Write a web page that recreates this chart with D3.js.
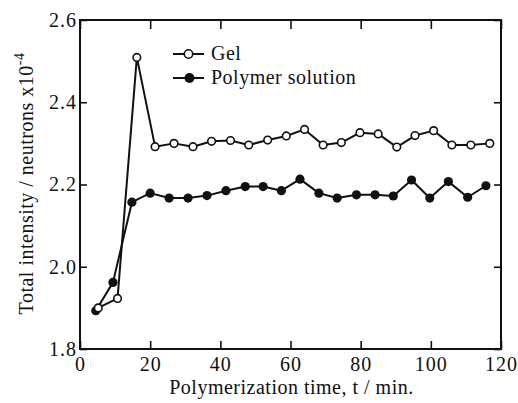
<!doctype html>
<html>
<head>
  <meta charset="utf-8">
  <title>Total intensity vs polymerization time</title>
  <style>
    body { margin: 0; background: #fff; }
    .axis line { stroke: #111; stroke-width: 1.6px; }
  </style>
</head>
<body>
  <div id="chart"></div>
  <script src="https://cdnjs.cloudflare.com/ajax/libs/d3/7.8.5/d3.min.js"></script>
  <script>
    // values
    var gelTime = [5.2, 10.7, 16.2, 21.4, 26.8, 32.2, 37.5, 42.9, 48.1, 53.5, 58.8, 64, 69.3, 74.5, 79.8, 85, 90.3, 95.5, 100.8, 106, 111.4, 116.8];
    var gelIntensity = [1.900, 1.923, 2.509, 2.292, 2.300, 2.292, 2.305, 2.307, 2.296, 2.308, 2.318, 2.334, 2.296, 2.302, 2.326, 2.323, 2.291, 2.319, 2.331, 2.296, 2.296, 2.300];
    var solTime = [4.5, 9.4, 14.8, 20, 25.4, 30.8, 36.2, 41.6, 47.1, 52.2, 57.4, 62.7, 68.1, 73.3, 78.8, 84.1, 89.3, 94.5, 99.7, 105, 110.5, 115.7];
    var solIntensity = [1.893, 1.962, 2.157, 2.179, 2.167, 2.167, 2.173, 2.185, 2.195, 2.195, 2.185, 2.213, 2.179, 2.167, 2.175, 2.175, 2.172, 2.211, 2.167, 2.207, 2.169, 2.197];
    var xTicks = [0, 20, 40, 60, 80, 100, 120];
    var yTicks = [1.8, 2.0, 2.2, 2.4, 2.6];
    var seriesNames = ["Gel", "Polymer solution"];

    // the serif face only shows up to 20px here, so stay at 20 and widen with spacing
    var fontName = "Liberation Serif";
    var fontSize = 20;
    var spacing = 0.5;
    var width = 518, height = 403;
    var margin = { top: 20, right: 17, bottom: 54, left: 80 };

    var gel = gelTime.map((t, i) => ({ t: t, v: gelIntensity[i] }));
    var sol = solTime.map((t, i) => ({ t: t, v: solIntensity[i] }));

    var x = d3.scaleLinear().domain([0, 120]).range([margin.left, width - margin.right]);
    var y = d3.scaleLinear().domain([1.8, 2.6]).range([height - margin.bottom, margin.top]);

    var svg = d3.select("#chart").append("svg")
      .attr("width", width).attr("height", height)
      .attr("font-family", fontName)
      .attr("font-size", fontSize);

    // axes with inward ticks on all four sides
    var styleAxis = g => g
      .attr("font-family", fontName)
      .attr("font-size", fontSize)
      .call(g => g.select(".domain").remove())
      .call(g => g.selectAll("text").attr("fill", "#111").attr("letter-spacing", 1));

    svg.append("g").attr("class", "axis")
      .attr("transform", `translate(0,${y.range()[0]})`)
      .call(d3.axisBottom(x).tickValues(xTicks).tickSizeInner(-8).tickSizeOuter(0).tickPadding(8))
      .call(styleAxis);

    svg.append("g").attr("class", "axis")
      .attr("transform", `translate(0,${y.range()[1]})`)
      .call(d3.axisTop(x).tickValues(xTicks).tickSizeInner(-9).tickSizeOuter(0).tickFormat(""))
      .call(styleAxis);

    svg.append("g").attr("class", "axis")
      .attr("transform", `translate(${x.range()[0]},0)`)
      .call(d3.axisLeft(y).tickValues(yTicks).tickSizeInner(-7).tickSizeOuter(0).tickPadding(3).tickFormat(d3.format(".1f")))
      .call(styleAxis);

    svg.append("g").attr("class", "axis")
      .attr("transform", `translate(${x.range()[1]},0)`)
      .call(d3.axisRight(y).tickValues(yTicks).tickSizeInner(-7).tickSizeOuter(0).tickFormat(""))
      .call(styleAxis);

    // frame
    svg.append("rect")
      .attr("x", x.range()[0]).attr("y", y.range()[1])
      .attr("width", x.range()[1] - x.range()[0])
      .attr("height", y.range()[0] - y.range()[1])
      .attr("fill", "none").attr("stroke", "#111").attr("stroke-width", 2);

    var line = d3.line().x(d => x(d.t)).y(d => y(d.v));

    [sol, gel].forEach(data => {
      svg.append("path").datum(data)
        .attr("d", line)
        .attr("fill", "none").attr("stroke", "#111").attr("stroke-width", 2)
        .attr("stroke-linejoin", "round");
    });

    svg.append("g").selectAll("circle").data(sol).join("circle")
      .attr("cx", d => x(d.t)).attr("cy", d => y(d.v))
      .attr("r", 4.6).attr("fill", "#111");

    svg.append("g").selectAll("circle").data(gel).join("circle")
      .attr("cx", d => x(d.t)).attr("cy", d => y(d.v))
      .attr("r", 3.8).attr("fill", "#fff").attr("stroke", "#111").attr("stroke-width", 1.6);

    // legend
    var legend = svg.append("g").attr("transform", "translate(173,54)");
    seriesNames.forEach((name, i) => {
      var row = legend.append("g").attr("transform", `translate(0,${i * 24})`);
      row.append("line").attr("x1", 0).attr("x2", 31).attr("y1", 0).attr("y2", 0)
        .attr("stroke", "#111").attr("stroke-width", 2);
      if (i === 0) {
        row.append("circle").attr("cx", 15.5).attr("cy", 0).attr("r", 4.2)
          .attr("fill", "#fff").attr("stroke", "#111").attr("stroke-width", 1.6);
      } else {
        row.append("circle").attr("cx", 16.5).attr("cy", 0).attr("r", 5).attr("fill", "#111");
      }
      row.append("text").attr("x", 38).attr("y", 6).attr("letter-spacing", spacing)
        .attr("fill", "#111").text(name);
    });

    // axis titles
    svg.append("text")
      .attr("x", (x.range()[0] + x.range()[1]) / 2 + 1)
      .attr("y", 394)
      .attr("text-anchor", "middle")
      .attr("letter-spacing", spacing)
      .attr("fill", "#111")
      .text("Polymerization time, t / min.");

    var yt = svg.append("text")
      .attr("transform", `translate(33,${(y.range()[0] + y.range()[1]) / 2 - 1}) rotate(-90)`)
      .attr("text-anchor", "middle")
      .attr("letter-spacing", spacing)
      .attr("fill", "#111");
    yt.append("tspan").text("Total intensity / neutrons x10");
    yt.append("tspan").attr("font-size", 14).attr("dy", -9).text("-4");
  </script>
</body>
</html>
